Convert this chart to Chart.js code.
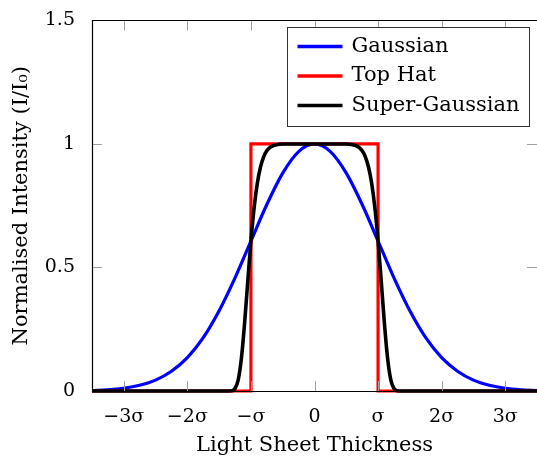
<!DOCTYPE html>
<html>
<head>
<meta charset="utf-8">
<script src="https://cdn.jsdelivr.net/npm/chart.js@4/dist/chart.umd.min.js"></script>
<style>
  html, body { margin: 0; padding: 0; background: #fff; }
  #wrap { width: 537px; height: 458px; position: relative; }
</style>
</head>
<body>
<div id="wrap"><canvas id="chart"></canvas></div>
<script>
// x positions in units of sigma
const gaussX = [-3.5, -3.25, -3, -2.75, -2.5, -2.25, -2, -1.75, -1.5, -1.25, -1, -0.75, -0.5, -0.25, 0,
  0.25, 0.5, 0.75, 1, 1.25, 1.5, 1.75, 2, 2.25, 2.5, 2.75, 3, 3.25, 3.5];
const gaussY = [0.002, 0.005, 0.011, 0.023, 0.044, 0.080, 0.135, 0.216, 0.325, 0.458, 0.607, 0.755, 0.882, 0.969, 1,
  0.969, 0.882, 0.755, 0.607, 0.458, 0.325, 0.216, 0.135, 0.080, 0.044, 0.023, 0.011, 0.005, 0.002];

const hatX = [-3.5, -1, -1, 1, 1, 3.5];
const hatY = [0, 0, 1, 1, 0, 0];

const superX = [-3.5, -1.4, -1.3, -1.25, -1.2, -1.15, -1.1, -1.05, -1, -0.95, -0.9, -0.85, -0.8, -0.75, -0.7, -0.65, -0.6, -0.5, 0,
  0.5, 0.6, 0.65, 0.7, 0.75, 0.8, 0.85, 0.9, 0.95, 1, 1.05, 1.1, 1.15, 1.2, 1.25, 1.3, 1.4, 3.5];
const superY = [0, 0, 0.001, 0.010, 0.045, 0.132, 0.273, 0.443, 0.607, 0.741, 0.840, 0.906, 0.948, 0.972, 0.986, 0.993, 0.997, 1, 1,
  1, 0.997, 0.993, 0.986, 0.972, 0.948, 0.906, 0.840, 0.741, 0.607, 0.443, 0.273, 0.132, 0.045, 0.010, 0.001, 0, 0];

const xTicks = [-3, -2, -1, 0, 1, 2, 3];
const xTickLabels = ['\u22123\u03c3', '\u22122\u03c3', '\u2212\u03c3', '0', '\u03c3', '2\u03c3', '3\u03c3'];
const yTicks = [0, 0.5, 1, 1.5];
const yTickLabels = ['0', '0.5', '1', '1.5'];

const FONT = '"DejaVu Serif", "Liberation Serif", serif';

function pts(xs, ys) {
  return xs.map((x, i) => ({ x, y: ys[i] }));
}

// frame, inward tick marks and the legend box
const framePlugin = {
  id: 'frame',
  afterDraw(chart) {
    const { ctx, chartArea: a, scales } = chart;
    ctx.save();

    ctx.strokeStyle = '#a0a0a0';
    ctx.lineWidth = 1;
    const tl = 10;
    xTicks.forEach(v => {
      const px = Math.round(scales.x.getPixelForValue(v)) + 0.5;
      ctx.beginPath();
      ctx.moveTo(px, a.bottom); ctx.lineTo(px, a.bottom - tl);
      ctx.moveTo(px, a.top); ctx.lineTo(px, a.top + tl);
      ctx.stroke();
    });
    yTicks.forEach(v => {
      const py = Math.round(scales.y.getPixelForValue(v)) + 0.5;
      ctx.beginPath();
      ctx.moveTo(a.left, py); ctx.lineTo(a.left + tl, py);
      ctx.moveTo(a.right, py); ctx.lineTo(a.right - tl, py);
      ctx.stroke();
    });

    ctx.strokeStyle = '#000';
    ctx.lineWidth = 1.2;
    ctx.beginPath();
    ctx.moveTo(a.right, Math.round(a.top) + 0.5);
    ctx.lineTo(Math.round(a.left) + 0.5, Math.round(a.top) + 0.5);
    ctx.lineTo(Math.round(a.left) + 0.5, Math.round(a.bottom) + 0.5);
    ctx.lineTo(a.right, Math.round(a.bottom) + 0.5);
    ctx.stroke();

    // legend
    const lx = 287.5, ly = 27.5, lw = 242, lh = 99;
    ctx.fillStyle = '#fff';
    ctx.fillRect(lx, ly, lw, lh);
    ctx.strokeStyle = '#333';
    ctx.lineWidth = 1;
    ctx.strokeRect(lx, ly, lw, lh);
    ctx.font = '21px ' + FONT;
    ctx.textBaseline = 'middle';
    chart.data.datasets.forEach((ds, i) => {
      const y = ly + 19 + i * 29.5;
      ctx.strokeStyle = ds.borderColor;
      ctx.lineWidth = 3.5;
      ctx.beginPath();
      ctx.moveTo(lx + 10, y); ctx.lineTo(lx + 55, y);
      ctx.stroke();
      ctx.fillStyle = '#000';
      ctx.fillText(ds.label, lx + 64, y);
    });
    ctx.restore();
  }
};

new Chart(document.getElementById('chart'), {
  type: 'line',
  data: {
    datasets: [
      { label: 'Gaussian', data: pts(gaussX, gaussY), borderColor: '#0000ff', borderWidth: 3.2, order: 3 },
      { label: 'Top Hat', data: pts(hatX, hatY), borderColor: '#ff0000', borderWidth: 3.2, order: 2, tension: 0 },
      { label: 'Super-Gaussian', data: pts(superX, superY), borderColor: '#000000', borderWidth: 3.6, order: 1 }
    ]
  },
  options: {
    responsive: true,
    maintainAspectRatio: false,
    animation: false,
    devicePixelRatio: 1,
    layout: { padding: { top: 18, right: 0, left: 0, bottom: 0 } },
    elements: {
      point: { radius: 0 },
      line: { cubicInterpolationMode: 'monotone', fill: false }
    },
    datasets: { line: { clip: 4 } },
    plugins: { legend: { display: false }, tooltip: { enabled: false } },
    scales: {
      x: {
        type: 'linear',
        min: -3.5, max: 3.5,
        afterBuildTicks: s => { s.ticks = xTicks.map(v => ({ value: v })); },
        afterFit: s => { s.height = 67; },
        grid: { display: false },
        border: { display: false },
        ticks: {
          padding: 7,
          color: '#000',
          font: { family: FONT, size: 19 },
          maxRotation: 0,
          callback: v => xTickLabels[xTicks.indexOf(v)]
        },
        title: {
          display: true, text: 'Light Sheet Thickness', color: '#000',
          font: { family: FONT, size: 21 }, padding: { top: 0, bottom: 0 }
        }
      },
      y: {
        type: 'linear',
        min: 0, max: 1.5,
        afterBuildTicks: s => { s.ticks = yTicks.map(v => ({ value: v })); },
        afterFit: s => { s.width = 92; },
        grid: { display: false },
        border: { display: false },
        ticks: {
          padding: 9,
          color: '#000',
          font: { family: FONT, size: 19 },
          callback: v => yTickLabels[yTicks.indexOf(v)]
        },
        title: {
          display: true, text: 'Normalised Intensity (I/I\u2080)', color: '#000',
          font: { family: FONT, size: 21 }, padding: { top: 9, bottom: 10 }
        }
      }
    }
  },
  plugins: [framePlugin]
});
</script>
</body>
</html>
